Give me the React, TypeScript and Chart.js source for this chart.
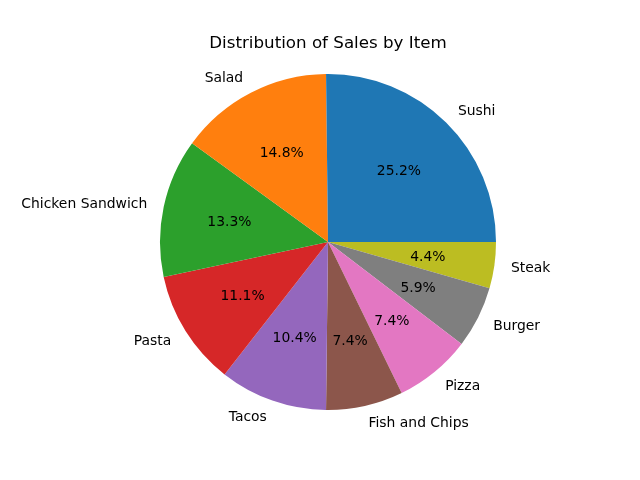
import React, { useEffect, useRef } from "react";
import { Chart, registerables } from "chart.js";

Chart.register(...registerables);

const TITLE = "Distribution of Sales by Item";
const ITEMS = ["Sushi", "Salad", "Chicken Sandwich", "Pasta", "Tacos", "Fish and Chips", "Pizza", "Burger", "Steak"];
const SALES = [34, 20, 18, 15, 14, 10, 10, 8, 6];
const COLORS = ["#1f77b4", "#ff7f0e", "#2ca02c", "#d62728", "#9467bd", "#8c564b", "#e377c2", "#7f7f7f", "#bcbd22"];

const FONT = "'DejaVu Sans', sans-serif";

const labelPlugin = {
  id: "mplLabels",
  afterDatasetsDraw(chart: any) {
    const ctx = chart.ctx;
    const meta = chart.getDatasetMeta(0);
    const data: number[] = chart.data.datasets[0].data;
    const labels: string[] = chart.data.labels;
    const total = data.reduce((a, b) => a + b, 0);
    ctx.save();
    ctx.fillStyle = "#000";
    meta.data.forEach((arc: any, i: number) => {
      const p = arc.getProps(["startAngle", "endAngle", "outerRadius", "x", "y"], true);
      const mid = (p.startAngle + p.endAngle) / 2;
      const c = Math.cos(mid);
      const s = Math.sin(mid);
      const R = p.outerRadius;
      ctx.font = `13.9px ${FONT}`;
      ctx.textBaseline = "middle";
      ctx.textAlign = c > 0 ? "left" : "right";
      ctx.fillText(labels[i], p.x + c * R * 1.1, p.y + s * R * 1.1 + 1);
      ctx.textAlign = "center";
      const pct = ((data[i] / total) * 100).toFixed(1) + "%";
      ctx.fillText(pct, p.x + c * R * 0.6, p.y + s * R * 0.6 + 1);
    });
    ctx.font = `16.7px ${FONT}`;
    ctx.textAlign = "center";
    ctx.textBaseline = "middle";
    ctx.fillText(TITLE, 328, 44);
    ctx.restore();
  },
};

export default function App() {
  const ref = useRef<HTMLCanvasElement>(null);
  useEffect(() => {
    document.body.style.margin = "0";
    const labels = [...ITEMS].reverse();
    const values = [...SALES].reverse();
    const colors = [...COLORS].reverse();
    const chart = new Chart(ref.current!, {
      type: "pie",
      data: {
        labels,
        datasets: [{ data: values, backgroundColor: colors, borderWidth: 0 }],
      },
      options: {
        responsive: false,
        animation: false,
        rotation: 90,
        layout: { padding: { left: 160, right: 144, top: 74, bottom: 70 } },
        plugins: { legend: { display: false }, tooltip: { enabled: false }, title: { display: false } },
      },
      plugins: [labelPlugin],
    });
    return () => chart.destroy();
  }, []);
  return (
    <div style={{ width: 640, height: 480, background: "#fff" }}>
      <canvas ref={ref} width={640} height={480} />
    </div>
  );
}
